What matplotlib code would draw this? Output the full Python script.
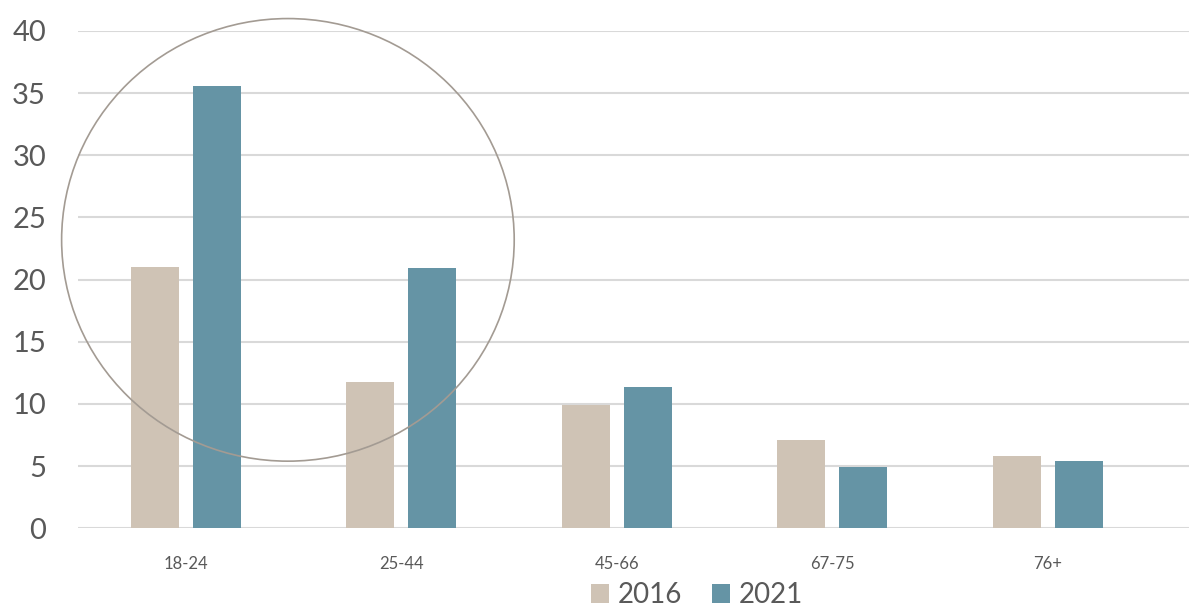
import numpy as np
import matplotlib.pyplot as plt
from matplotlib.patches import Ellipse

categories = ['18-24', '25-44', '45-66', '67-75', '76+']
values_2016 = [21.0, 11.8, 9.9, 7.1, 5.8]
values_2021 = [35.6, 20.9, 11.35, 4.95, 5.4]
y_ticks = [0, 5, 10, 15, 20, 25, 30, 35, 40]

COLOR_2016 = '#cfc3b5'
COLOR_2021 = '#6594a5'
TEXT_COLOR = '#595959'
GRID_COLOR = '#d9d9d9'
BAR_W = 0.223
OFFSET = 0.144

plt.rcParams['font.family'] = ['Lato', 'DejaVu Sans']

fig = plt.figure(figsize=(11.89, 6.07), dpi=100)
ax = fig.add_axes([78 / 1189, 78.7 / 607, 1 - 78 / 1189, 497.3 / 607])

x = np.arange(len(categories))
ax.bar(x - OFFSET, values_2016, BAR_W, color=COLOR_2016, label='2016', zorder=3)
ax.bar(x + OFFSET, values_2021, BAR_W, color=COLOR_2021, label='2021', zorder=3)

# highlight circle around the two youngest groups
ax.add_patch(Ellipse((0.474, 23.2), 2.10, 35.6, fill=False,
                     edgecolor='#a39b93', lw=1.2, zorder=4, clip_on=False))

ax.set_xlim(-0.5, 4.655)
ax.set_ylim(0, 40)
ax.set_yticks(y_ticks)
ax.set_xticks(x)
ax.set_xticklabels(categories)
ax.grid(axis='y', color=GRID_COLOR, lw=1.5, zorder=0)
for s in ax.spines.values():
    s.set_visible(False)
ax.tick_params(axis='both', length=0)
ax.tick_params(axis='y', labelsize=21, labelcolor=TEXT_COLOR, pad=23)
ax.tick_params(axis='x', labelsize=12, labelcolor=TEXT_COLOR, pad=20)

leg = fig.legend(loc='center', bbox_to_anchor=(697 / 1189, 12 / 607), ncol=2,
                 frameon=False, fontsize=20, handlelength=0.65, handleheight=0.65,
                 handletextpad=0.3, columnspacing=1.1, borderaxespad=0)
for t in leg.get_texts():
    t.set_color(TEXT_COLOR)

fig.savefig('out.png', dpi=100)
